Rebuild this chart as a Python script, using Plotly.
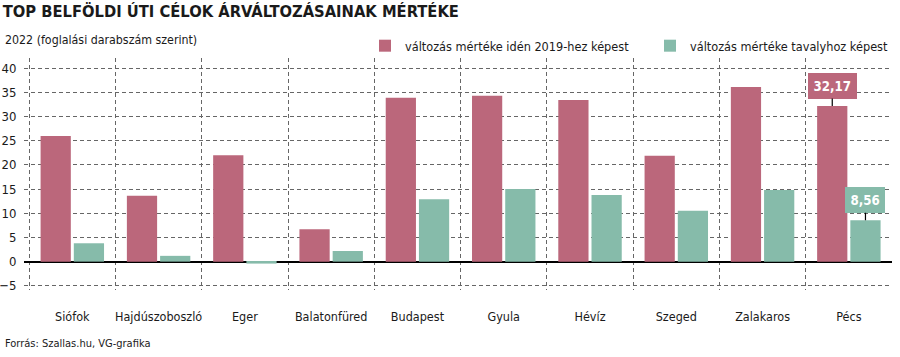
import plotly.graph_objects as go

categories = ["Siófok", "Hajdúszoboszló", "Eger", "Balatonfüred", "Budapest",
              "Gyula", "Hévíz", "Szeged", "Zalakaros", "Pécs"]
vs_2019 = [26.0, 13.6, 22.0, 6.7, 33.9, 34.3, 33.4, 21.9, 36.1, 32.17]
vs_last_year = [3.8, 1.2, -0.4, 2.2, 12.9, 15.0, 13.8, 10.5, 14.8, 8.56]
series_names = ["változás mértéke idén 2019-hez képest", "változás mértéke tavalyhoz képest"]
y_ticks = [-5, 0, 5, 10, 15, 20, 25, 30, 35, 40]

PINK = "#bb677b"
GREEN = "#86bbaa"
FONT = "DejaVu Sans Condensed, Liberation Sans Narrow, Roboto, sans-serif"
TXT = "#1a1a1a"
GRID = "#666666"
DASH = "4px,3px"

idx = list(range(len(categories)))

fig = go.Figure()
fig.add_trace(go.Bar(x=idx, y=vs_2019, name=series_names[0], marker_color=PINK,
                     marker_line_width=0))
fig.add_trace(go.Bar(x=idx, y=vs_last_year, name=series_names[1], marker_color=GREEN,
                     marker_line_width=0))
# grey dots above category labels
fig.add_trace(go.Scatter(x=idx, y=[-7.5] * len(idx), mode="markers",
                         marker=dict(color="#9a9a9a", size=6), cliponaxis=False,
                         showlegend=False, hoverinfo="skip"))
# invisible trace on secondary axis for boundary gridlines
fig.add_trace(go.Scatter(x=[-0.5, 9.5], y=[None, None], xaxis="x2", showlegend=False,
                         hoverinfo="skip"))

x_range = [-0.56, 9.5]
fig.update_layout(
    width=900, height=357,
    margin=dict(l=24, r=8, t=58, b=67, autoexpand=False),
    paper_bgcolor="white", plot_bgcolor="white",
    barmode="group", bargap=0.23, bargroupgap=0.09,
    font=dict(family=FONT, color=TXT, size=13),
    showlegend=True,
    legend=dict(orientation="h", x=365 / 900, xanchor="left", xref="container",
                y=(357 - 46) / 357, yref="container", yanchor="middle",
                font=dict(size=12.6, color=TXT), traceorder="normal",
                bgcolor="rgba(0,0,0,0)", itemwidth=30, entrywidth=240),
    xaxis=dict(range=x_range, tickmode="array", tickvals=idx, ticktext=categories,
               showgrid=False, zeroline=False, showline=False, automargin=False,
               ticks="outside", ticklen=15, tickcolor="rgba(0,0,0,0)",
               tickfont=dict(size=12.5, color=TXT)),
    xaxis2=dict(range=x_range, overlaying="x", side="bottom", tickmode="array",
                tickvals=[i + 0.5 for i in range(-1, len(categories))],
                showticklabels=False, showgrid=True, gridcolor=GRID,
                griddash=DASH, gridwidth=1, zeroline=False, showline=False,
                automargin=False),
    yaxis=dict(range=[-5.86, 42.1], tickmode="array", tickvals=y_ticks,
               showgrid=True, gridcolor=GRID, griddash=DASH, gridwidth=1,
               zeroline=True, zerolinecolor="#000000", zerolinewidth=2,
               automargin=False,
               ticks="outside", ticklen=4, tickcolor="rgba(0,0,0,0)",
               tickfont=dict(size=13, color=TXT)),
    title=dict(text="<b>TOP BELFÖLDI ÚTI CÉLOK ÁRVÁLTOZÁSAINAK MÉRTÉKE</b>",
               x=0.003, xanchor="left", y=0.985, yanchor="top", yref="container",
               font=dict(size=16.4, family=FONT, color=TXT)),
)

fig.add_annotation(text="2022 (foglalási darabszám szerint)", xref="paper", yref="paper",
                   x=-21 / 868, y=(290 - 40) / 232, xanchor="left", yanchor="middle",
                   showarrow=False, font=dict(size=12.3))
fig.add_annotation(text="Forrás: Szallas.hu, VG-grafika", xref="paper", yref="paper",
                   x=-21 / 868, y=(290 - 343) / 232, xanchor="left", yanchor="middle",
                   showarrow=False, font=dict(size=11))

# value callouts for Pécs
last = len(categories) - 1
for val, off, col in [(vs_2019[last], -0.1925, PINK), (vs_last_year[last], 0.1925, GREEN)]:
    fig.add_annotation(x=last + off, y=val, xref="x", yref="y",
                       text="<b>" + f"{val:.2f}".replace(".", ",") + "</b>",
                       showarrow=True, arrowhead=0, arrowwidth=1.2, arrowcolor="#000",
                       ax=0, ay=-20, standoff=0, bgcolor=col, bordercolor=col,
                       borderpad=4.5, font=dict(size=13.2, color="white"))

fig.write_html("out.html", config={"displayModeBar": False},
               post_script="document.body.style.margin='0';")
